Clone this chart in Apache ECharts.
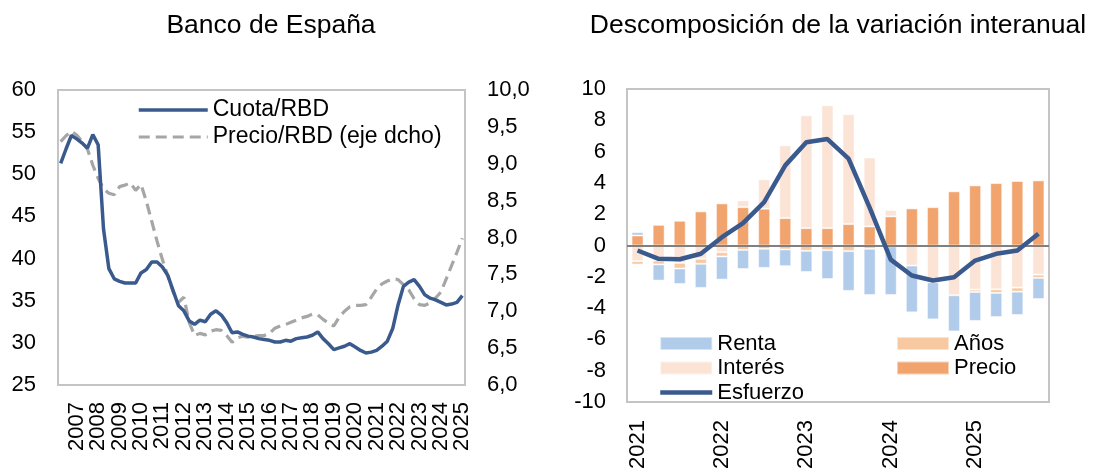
<!DOCTYPE html>
<html>
<head>
<meta charset="utf-8">
<script src="https://cdn.jsdelivr.net/npm/echarts@6/dist/echarts.min.js"></script>
<style>
html,body{margin:0;padding:0;background:#fff;}
#c{width:1095px;height:474px;}
</style>
</head>
<body>
<div id="c"></div>
<script>
// ---- Left chart: Banco de España (quarterly, 2006T3 .. 2025T2) ----
var leftQuarters = [];
(function(){ var y=2006,q=3; for (var i=0;i<76;i++){ leftQuarters.push(y+'T'+q); q++; if(q>4){q=1;y++;} } })();

var cuotaRBD = [51.3,53.0,54.6,54.2,53.7,53.1,54.7,53.5,43.5,38.8,
  37.6,37.3,37.1,37.1,37.1,38.3,38.7,39.6,39.6,39.0,
  38.0,36.2,34.4,33.8,32.6,32.2,32.7,32.5,33.4,33.8,
  33.3,32.4,31.2,31.3,31.0,30.8,30.7,30.5,30.4,30.3,
  30.1,30.1,30.3,30.2,30.5,30.6,30.7,30.9,31.3,30.5,
  29.9,29.2,29.4,29.6,29.9,29.5,29.1,28.8,28.9,29.1,
  29.6,30.2,31.7,34.5,36.7,37.2,37.5,36.7,35.7,35.3,
  35.1,34.8,34.5,34.6,34.8,35.6];

var precioRBD = [9.30,9.38,9.44,9.39,9.30,9.20,8.98,8.80,8.66,8.60,
  8.58,8.69,8.71,8.74,8.64,8.72,8.49,8.22,7.95,7.70,
  7.48,7.26,7.12,7.19,6.85,6.67,6.70,6.68,6.73,6.75,
  6.74,6.67,6.58,6.64,6.66,6.65,6.66,6.67,6.67,6.70,
  6.77,6.80,6.82,6.85,6.88,6.91,6.93,6.96,6.95,6.89,
  6.84,6.80,6.92,7.00,7.06,7.08,7.08,7.09,7.19,7.30,
  7.37,7.41,7.44,7.43,7.36,7.29,7.17,7.09,7.08,7.11,
  7.18,7.26,7.44,7.62,7.80,7.99];

// ---- Right chart: Descomposición de la variación interanual (2021T1 .. 2025T4) ----
var rightQuarters = ['2021T1','2021T2','2021T3','2021T4','2022T1','2022T2','2022T3','2022T4',
  '2023T1','2023T2','2023T3','2023T4','2024T1','2024T2','2024T3','2024T4',
  '2025T1','2025T2','2025T3','2025T4'];
var renta   = [0.21,-1.03,-0.99,-1.54,-1.48,-1.22,-1.22,-1.07,-1.35,-1.84,-2.54,-2.95,-3.11,-2.99,-2.37,-2.31,-1.85,-1.54,-1.49,-1.35];
var anios   = [-0.22,-0.25,-0.36,-0.32,-0.27,-0.28,-0.21,-0.25,-0.34,-0.30,-0.36,-0.21,-0.05,0.00,0.07,0.00,-0.15,-0.23,-0.26,-0.21];
var interes = [-1.00,-0.96,-1.11,-0.85,-0.43,0.43,1.88,4.65,7.21,7.85,7.02,4.40,0.41,-1.28,-2.35,-3.18,-2.82,-2.80,-2.69,-1.86];
var precio  = [0.64,1.32,1.58,2.18,2.69,2.45,2.35,1.75,1.11,1.11,1.37,1.22,1.86,2.37,2.45,3.46,3.84,3.99,4.12,4.16];
var esfuerzo= [-0.32,-0.85,-0.88,-0.53,0.53,1.43,2.77,5.12,6.60,6.80,5.55,2.42,-0.90,-1.92,-2.24,-2.03,-0.96,-0.53,-0.32,0.75];

var FONT = 'Liberation Sans, Arial, sans-serif';
var BLUE = '#3a5a8e';
var GREY = '#a6a6a6';
var chart = echarts.init(document.getElementById('c'), null, {renderer:'canvas'});

var hideSym = {opacity: 0};
var option = {
  animation: false,
  backgroundColor: '#fff',
  textStyle: {fontFamily: FONT, color: '#000'},
  title: [
    {text: 'Banco de España', left: 271, top: 12, padding: 0, textAlign: 'center',
     textStyle: {fontFamily: FONT, fontSize: 26.5, fontWeight: 'normal', color: '#000'}},
    {text: 'Descomposición de la variación interanual', left: 838, top: 12, padding: 0, textAlign: 'center',
     textStyle: {fontFamily: FONT, fontSize: 26.5, fontWeight: 'normal', color: '#000'}}
  ],
  legend: [
    {data: [{name:'Cuota/RBD', itemStyle: hideSym, lineStyle: {width: 3.5, color: BLUE}},
            {name:'Precio/RBD (eje dcho)', itemStyle: hideSym, lineStyle: {width: 3.2, color: GREY, type: [11, 6]}}],
     orient: 'vertical', left: 137, top: 98.5, padding: 0,
     itemWidth: 69, itemHeight: 14, itemGap: 4, selectedMode: false,
     textStyle: {fontFamily: FONT, fontSize: 23, color: '#000'}},
    {data: [{name:'Renta', icon:'rect'}, {name:'Interés', icon:'rect'},
            {name:'Esfuerzo', itemStyle: hideSym, lineStyle: {width: 4.5, color: BLUE}}],
     orient: 'vertical', left: 658, top: 332.5, padding: 0,
     itemWidth: 52, itemHeight: 13, itemGap: 2.5, selectedMode: false,
     textStyle: {fontFamily: FONT, fontSize: 22, color: '#000'}},
    {data: [{name:'Años', icon:'rect'}, {name:'Precio', icon:'rect'}],
     orient: 'vertical', left: 896, top: 332.5, padding: 0,
     itemWidth: 52, itemHeight: 13, itemGap: 2.5, selectedMode: false,
     textStyle: {fontFamily: FONT, fontSize: 22, color: '#000'}}
  ],
  grid: [
    {left: 58, top: 90, width: 407, height: 295, show: true, borderColor: '#c4c4c4', borderWidth: 2, backgroundColor: 'transparent'},
    {left: 627, top: 89, width: 422, height: 313, show: true, borderColor: '#c4c4c4', borderWidth: 2, backgroundColor: 'transparent'}
  ],
  xAxis: [
    {type: 'category', gridIndex: 0, data: leftQuarters, boundaryGap: true,
     axisLine: {show: false}, axisTick: {show: false}, splitLine: {show: false},
     axisLabel: {interval: 0, rotate: 90, margin: 17, hideOverlap: false,
       formatter: function(v, i){ return i % 4 === 3 ? v.slice(0,4) : ''; },
       fontFamily: FONT, fontSize: 22, color: '#000'}},
    {type: 'category', gridIndex: 1, data: rightQuarters, boundaryGap: true,
     axisLine: {show: false, onZero: false}, axisTick: {show: false}, splitLine: {show: false},
     axisLabel: {interval: 0, rotate: 90, margin: 18, hideOverlap: false,
       formatter: function(v, i){ return i % 4 === 0 ? v.slice(0,4) : ''; },
       fontFamily: FONT, fontSize: 22, color: '#000'}}
  ],
  yAxis: [
    {type: 'value', gridIndex: 0, min: 25, max: 60, interval: 5, position: 'left',
     axisLine: {show: false}, axisTick: {show: false}, splitLine: {show: false},
     axisLabel: {margin: 22, fontFamily: FONT, fontSize: 22, color: '#000'}},
    {type: 'value', gridIndex: 0, min: 6, max: 10, interval: 0.5, position: 'right',
     axisLine: {show: false}, axisTick: {show: false}, splitLine: {show: false},
     axisLabel: {margin: 22, fontFamily: FONT, fontSize: 22, color: '#000',
       formatter: function(v){ return v.toFixed(1).replace('.', ','); }}},
    {type: 'value', gridIndex: 1, min: -10, max: 10, interval: 2,
     axisLine: {show: false}, axisTick: {show: false}, splitLine: {show: false},
     axisLabel: {margin: 21, fontFamily: FONT, fontSize: 22, color: '#000'}}
  ],
  series: [
    {name: 'Cuota/RBD', type: 'line', xAxisIndex: 0, yAxisIndex: 0, data: cuotaRBD,
     symbol: 'none', color: BLUE, lineStyle: {color: BLUE, width: 3.5}, z: 3},
    {name: 'Precio/RBD (eje dcho)', type: 'line', xAxisIndex: 0, yAxisIndex: 1, data: precioRBD,
     symbol: 'none', color: GREY, lineStyle: {color: GREY, width: 3.2, type: [11, 6]}, z: 2},
    {name: 'Precio', type: 'bar', xAxisIndex: 1, yAxisIndex: 2, stack: 'd', data: precio,
     barWidth: 12, color: '#f2a46f', itemStyle: {color: '#f2a46f', borderColor: 'rgba(255,255,255,0.5)', borderWidth: 1},
     markLine: {silent: true, symbol: 'none', label: {show: false},
       lineStyle: {color: '#808080', width: 2, type: 'solid'}, data: [{yAxis: 0}]}},
    {name: 'Interés', type: 'bar', xAxisIndex: 1, yAxisIndex: 2, stack: 'd', data: interes,
     barWidth: 12, color: '#fbe4d6', itemStyle: {color: '#fbe4d6', borderColor: 'rgba(255,255,255,0.5)', borderWidth: 1}},
    {name: 'Años', type: 'bar', xAxisIndex: 1, yAxisIndex: 2, stack: 'd', data: anios,
     barWidth: 12, color: '#f8c9a0', itemStyle: {color: '#f8c9a0', borderColor: 'rgba(255,255,255,0.5)', borderWidth: 1}},
    {name: 'Renta', type: 'bar', xAxisIndex: 1, yAxisIndex: 2, stack: 'd', data: renta,
     barWidth: 12, color: '#b1cbea', itemStyle: {color: '#b1cbea', borderColor: 'rgba(255,255,255,0.5)', borderWidth: 1}},
    {name: 'Esfuerzo', type: 'line', xAxisIndex: 1, yAxisIndex: 2, data: esfuerzo,
     symbol: 'none', color: BLUE, lineStyle: {color: BLUE, width: 4.5}, z: 5}
  ]
};
chart.setOption(option);
</script>
</body>
</html>
